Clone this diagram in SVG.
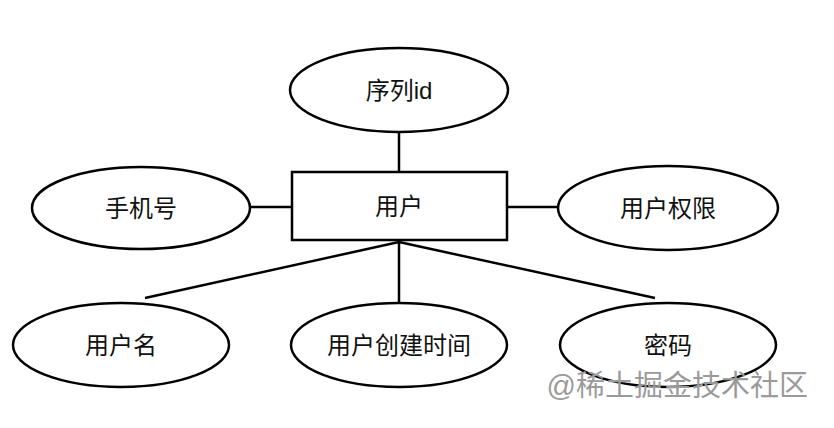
<svg xmlns="http://www.w3.org/2000/svg" width="834" height="428" viewBox="0 0 834 428">
<style>
.n{fill:#fff;stroke:#000;stroke-width:2.5}
.t{font-family:"Liberation Sans","Noto Sans CJK SC",sans-serif;font-size:24px;fill:#111;text-anchor:middle;dominant-baseline:central}
.c line{stroke:#000;stroke-width:2.5}
</style>
<rect width="834" height="428" fill="#fff"/>
<g class="c">
<line x1="399" y1="132" x2="399" y2="172"/>
<line x1="250" y1="207" x2="292" y2="207"/>
<line x1="507" y1="207" x2="558" y2="207"/>
<line x1="399" y1="240" x2="399" y2="303"/>
<line x1="399" y1="242" x2="145" y2="298"/>
<line x1="399" y1="242" x2="655" y2="298"/>
</g>
<g id="xulieid"><ellipse class="n" cx="399" cy="90" rx="109" ry="42"/><text class="t" x="399" y="90">序列id</text></g>
<g id="yonghu"><rect class="n" x="292" y="172" width="215" height="68"/><text class="t" x="399" y="206">用户</text></g>
<g id="shoujihao"><ellipse class="n" cx="141" cy="208" rx="109" ry="41"/><text class="t" x="141" y="208">手机号</text></g>
<g id="quanxian"><ellipse class="n" cx="668" cy="208" rx="110" ry="42"/><text class="t" x="668" y="208">用户权限</text></g>
<g id="yonghuming"><ellipse class="n" cx="121" cy="345" rx="108" ry="42"/><text class="t" x="121" y="345">用户名</text></g>
<g id="chuangjian"><ellipse class="n" cx="399" cy="345" rx="108" ry="42"/><text class="t" x="399" y="345">用户创建时间</text></g>
<g id="mima"><ellipse class="n" cx="668" cy="345" rx="108" ry="42"/><text class="t" x="668" y="345">密码</text></g>
<text x="808" y="386" font-family="Liberation Sans,Noto Sans CJK SC,sans-serif" font-size="29" fill="#9a9a9a" text-anchor="end" dominant-baseline="central">@稀土掘金技术社区</text>
</svg>
